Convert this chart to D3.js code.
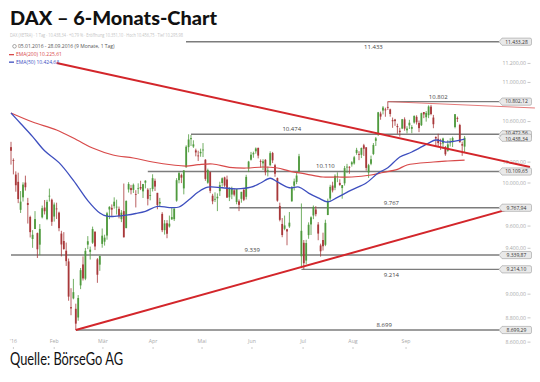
<!DOCTYPE html>
<html><head><meta charset="utf-8">
<script src="https://cdn.jsdelivr.net/npm/d3@7"></script>
<style>body{margin:0;background:#fff}svg{display:block}</style>
</head><body>
<svg id="c" width="540" height="382"></svg>
<script>
// ---- Daily OHLC, 05.01.2016 – 28.09.2016 (trading-day index) ----
const open = [
10346,10220,10080,10011,9749,9865,10004,9812,9683,9483,9573,9536,9432,9680,9770,9664,9879,9843,9687,
9761,9723,9532,9465,9378,9284,8890,8964,8876,8803,9075,9257,9133,9432,9368,9450,9547,9302,9255,9439,9459,
9514,9752,9767,9783,9777,9758,9663,9737,9581,9939,9952,9935,9895,9945,9962,9921,10003,9937,9884,9943,10021,
9907,9807,9711,9563,9626,9596,9661,9663,9834,10027,10075,9949,10149,10346,10424,10352,10314,10264,10286,10320,10223,
10003,10104,9880,9843,9856,9923,10000,10053,10034,9865,9891,9931,9822,9828,9851,9937,9870,10138,10223,10276,10305,10339,
10211,10188,10222,10110,10168,10288,10170,10047,9785,9619,9575,9571,9596,9828,9974,10010,10113,9329,9449,9291,9518,9615,
9697,9752,9614,9425,9474,9431,9701,9854,9976,9955,10066,10001,9952,9997,10149,10154,10178,10187,10289,10278,10271,
10364,10344,10100,10184,10279,10408,10474,10680,10711,10723,10748,10723,10614,10620,10555,10508,10530,10622,10512,10561,10527,10590,10647,
10586,10563,10696,10643,10664,10751,10640,10446,10428,10383,10382,10346,10310,10386,10395,10545,10636,10565,10375,10351];
const high = [
10398,10236,10111,10098,9924,10007,10070,9860,9695,9563,9737,9541,9618,9788,9840,9842,9947,9853,9817,
9815,9732,9557,9545,9451,9309,9051,9131,8919,8992,9226,9328,9403,9509,9415,9595,9555,9313,9335,9578,9522,
9730,9783,9799,9865,9843,9779,9747,9995,9837,10008,9982,9995,9932,9997,10021,9991,10026,9951,9953,10083,10042,
9907,9860,9727,9655,9654,9696,9768,9761,10046,10108,10089,10121,10364,10472.56,10466,10413,10331,10311,10331,10386,10229,
10137,10108,9898,9912,9902,10012,10053,10060,10070,9960,9965,9948,9944,9845,9916,9942,10078,10212,10299,10302,10343,10340,
10226,10228,10229,10157,10305,10299,10183,10052,9815,9673,9696,9575,9729,9970,10042,10097,10280,9808,9474,9476,9634,9689,
9789,9783,9636,9441,9540,9658,9853,9983,10012,10082,10102,10036,9968,10163,10183,10161,10209,10260,10339,10306,10342,
10378,10346,10183,10263,10386,10445,10697,10700,10757,10740,10802.12,10730,10640,10627,10578,10537,10626,10642,10553,10617,10564,10661,10663,
10610,10689,10696,10706,10764,10769,10667,10452,10478,10428,10439,10357,10414,10434,10449,10675,10650,10577,10400,10456];
const low = [
10176,10082,9918,9811,9720,9826,9928,9623,9497,9404,9573,9314,9339,9670,9706,9654,9826,9602,9641,
9665,9553,9328,9387,9244,8944,8822,8956,8699.29,8776,9043,9117,9120,9392,9300,9439,9384,9097,9201,9405,9424,
9477,9663,9693,9760,9706,9670,9636,9498,9581,9910,9893,9906,9771,9897,9933,9859,9949,9790,9837,9920,9925,
9754,9776,9545,9523,9490,9586,9657,9646,9824,9997,9999,9893,10149,10295,10357,10338,10256,10211,10252,10249,10021,
9993,9904,9801,9821,9737,9878,9966,9962,9861,9830,9848,9874,9800,9737,9815,9830,9845,10104,10215,10242,10282,10236,
10146,10124,10073,10063,10168,10191,10059,9824,9643,9499,9562,9427,9583,9825,9930,9989,10095,9226,9214.10,9258,9485,9519,
9663,9689,9472,9326,9380,9419,9700,9832,9911,9932,10008,9973,9852,9976,10094,10088,10156,10176,10271,10219,10239,
10260,10118,10049,10170,10268,10357,10456,10618,10672,10648,10717,10649,10537,10557,10477,10450,10524,10508,10481,10525,10483,10579,10570,
10494,10555,10634,10599,10634,10663,10533,10351,10355,10319,10329,10261,10301,10352,10347,10532,10595,10391,10261,10296];
const close = [
10310,10214,9979,9849,9825,9985,9960,9794,9545,9521,9664,9391,9574,9764,9736,9823,9880,9639,9798,
9757,9581,9434,9393,9286,8979,8879,9017,8752,8967,9207,9135,9377,9463,9388,9573,9416,9167,9331,9513,9495,
9717,9776,9751,9824,9778,9692,9723,9498,9831,9990,9933,9983,9892,9950,9948,9990,10022,9851,9887,10046,9966,
9794,9822,9563,9624,9530,9622,9682,9761,10027,10094,10051,10120,10350,10421,10435,10373,10294,10260,10299,10322,10039,
10123,9926,9828,9851,9870,9980,10045,9975,9862,9952,9952,9890,9943,9795,9917,9842,10058,10205,10272,10287,10333,10263,
10204,10208,10103,10121,10287,10217,10088,9834,9657,9519,9606,9551,9631,9962,10015,10071,10257,9557,9268,9447,9612,9680,
9776,9709,9532,9373,9418,9629,9833,9964,9930,10068,10066,9982,9981,10142,10156,10147,10198,10247,10319,10275,10337,
10330,10144,10170,10228,10367,10432,10693,10650,10742,10713,10739,10676,10603,10604,10544,10494,10623,10529,10530,10588,10545,10657,10593,
10534,10684,10672,10687,10752,10676,10573,10432,10386,10379,10431,10276,10373,10393,10436,10674,10627,10394,10361,10438.34];

// ---- Moving averages ----
const ema50Idx = [0,4,9,14,20,26,32,37,40,44,48,52,56,61,66,70,74,78,82,88,94,100,104,108,111,116,120,124,128,132,136,142,148,153,157,162,167,174,177,181,185,189];
const ema50    = [10686,10580,10450,10310,10195,10025,9835,9720,9690,9690,9700,9715,9735,9780,9770,9775,9840,9915,9960,9955,9945,9960,10000,10045,10010,9955,9962,9905,9860,9822,9865,9935,10000,10095,10145,10250,10298,10386,10416,10396,10405,10425];
const ema200Idx = [0,9,19,27.5,34,42.5,51,59,67.5,73,78,84,91,98,105,111,116,123,130,136,142,150,155,161,165,176,182,189];
const ema200    = [10686,10595,10515,10416,10337,10269,10240,10201,10172,10162,10175,10182,10150,10143,10153,10143,10114,10085,10057,10057,10057,10076,10100,10130,10172,10201,10211,10220];

// ---- Horizontal levels ----
const levelValues = [11433.28,10802.12,10472.56,10109.65,9767.94,9339.87,9214.10,8699.29];
const levelStart  = [0,157,75,57,91,0,121,27];
const levelText   = ["11.433","10.802","10.474","10.110","9.767","9.339","9.214","8.699"];
const levelTextAt = [151,178,117,131,158.5,100.5,158.5,155.5];
const levelTextBelow = [true,false,false,false,false,false,true,false];

// ---- Trend lines [idx, price] ----
const trendFrom = [[19,11205],[27,8699.29],[157,10802.12]];
const trendTo   = [[216.25,10153],[213,9790],[218.3,10737]];
const trendWidth = [2,2,0.9];

// ---- Price tags & axis ----
const tagValues = [11433.28,10802.12,10472.56,10438.34,10109.65,9767.94,9339.87,9214.10,8699.29];
const priceTicks = [8600,8800,9000,9400,9600,10000,10200,10600,11000,11200];
const monthLabels = ["'16","Feb","Mär","Apr","Mai","Jun","Jul","Aug","Sep"];
const monthAt = [1,18,38.3,59.2,79.6,100.4,121.7,142.5,164.6];

const svg = d3.select("#c");
const x = d3.scaleLinear().domain([0,189]).range([11,464.6]);
const y = d3.scaleLog().domain([8699.29,11433.28]).range([330,41.7]);
const de = v => v.toFixed(2).replace(".",",").replace(/\B(?=(\d{3})+(?!\d))/g,".");
const tagLeft = 499;

// price tick labels
const tk = svg.append("g");
priceTicks.forEach(v=>{
  tk.append("text").attr("x",526).attr("y",y(v)+1.8).attr("text-anchor","end")
    .attr("font-family","Open Sans, sans-serif").attr("font-size",5.2).attr("fill","#a8a8a8").text(de(v));
  tk.append("line").attr("x1",527.5).attr("x2",530.5).attr("y1",y(v)).attr("y2",y(v)).attr("stroke","#b0b0b0").attr("stroke-width",0.7);
});

// month labels
monthLabels.forEach((m,i)=>{
  svg.append("text").attr("x",x(monthAt[i])).attr("y",343).attr("text-anchor","middle")
    .attr("font-family","Open Sans, sans-serif").attr("font-size",5.2).attr("fill","#a8a8a8").text(m);
  svg.append("line").attr("x1",x(monthAt[i])).attr("x2",x(monthAt[i])).attr("y1",347).attr("y2",349)
    .attr("stroke","#b8b8b8").attr("stroke-width",0.7);
});

// level lines
levelValues.forEach((v,i)=>{
  svg.append("line").attr("x1",x(levelStart[i])).attr("x2",tagLeft).attr("y1",y(v)).attr("y2",y(v))
    .attr("stroke","#7c7c7c").attr("stroke-width",1.4);
  svg.append("text").attr("x",x(levelTextAt[i])).attr("y",y(v)+(levelTextBelow[i]?7.5:-3))
    .attr("text-anchor","middle").attr("font-family","Open Sans, sans-serif").attr("font-size",6)
    .attr("fill","#444").text(levelText[i]);
});

// candles
const cg = svg.append("g");
close.forEach((c,i)=>{
  const o=open[i], up=c>=o, col=up?"#4f9a3e":"#a8383a", cx=x(i);
  cg.append("line").attr("x1",cx).attr("x2",cx).attr("y1",y(high[i])).attr("y2",y(low[i]))
    .attr("stroke",col).attr("stroke-width",0.8);
  const t=y(Math.max(o,c)), b=y(Math.min(o,c));
  cg.append("rect").attr("x",cx-0.9).attr("width",1.8).attr("y",t).attr("height",Math.max(0.8,b-t)).attr("fill",col);
});

// EMAs
const ln = d3.line().curve(d3.curveCatmullRom.alpha(0.5));
svg.append("path").attr("d",ln(ema200Idx.map((d,i)=>[x(d),y(ema200[i])])))
  .attr("fill","none").attr("stroke","#d84a4a").attr("stroke-width",1.2);
svg.append("path").attr("d",ln(ema50Idx.map((d,i)=>[x(d),y(ema50[i])])))
  .attr("fill","none").attr("stroke","#3e4fbf").attr("stroke-width",1.3);

// trend lines
trendFrom.forEach((f,i)=>{
  svg.append("line").attr("x1",x(f[0])).attr("y1",y(f[1])).attr("x2",x(trendTo[i][0])).attr("y2",y(trendTo[i][1]))
    .attr("stroke",i<2?"#d3262b":"#e06a6a").attr("stroke-width",trendWidth[i]);
});

// price tags
tagValues.forEach((v,k)=>{
  const c=y(v), l=tagLeft, r=531.5;
  const off = v===10472.56 ? -1 : (v===10438.34 ? 1 : 0);
  svg.append("path").attr("d",`M${l},${c} L${l+3},${c-3.6} L${r-1.5},${c-3.6} Q${r},${c-3.6} ${r},${c-2.1} L${r},${c+2.1} Q${r},${c+3.6} ${r-1.5},${c+3.6} L${l+3},${c+3.6} Z`)
    .attr("fill","#e9e9e9").attr("stroke","#9c9c9c").attr("stroke-width",0.6);
  svg.append("text").attr("x",(l+r)/2+1.2).attr("y",c+1.8+off).attr("text-anchor","middle")
    .attr("font-family","Open Sans, sans-serif").attr("font-size",5).attr("fill","#333").text(de(v));
});

// legend block
svg.append("rect").attr("x",0).attr("y",29).attr("width",186).attr("height",15).attr("fill","#fff");
svg.append("text").attr("x",10).attr("y",37).attr("font-family","Open Sans, sans-serif").attr("font-size",5)
  .attr("fill","#c4c4c4").attr("textLength",173).attr("lengthAdjust","spacingAndGlyphs")
  .text("DAX (XETRA) · 1 Tag · 10.438,34 · +0,79 % · Eröffnung 10.351,10 · Hoch 10.456,75 · Tief 10.295,98");
svg.append("circle").attr("cx",14.5).attr("cy",46.3).attr("r",1.8).attr("fill","none").attr("stroke","#555").attr("stroke-width",0.5);
svg.append("text").attr("x",18).attr("y",48).attr("font-family","Open Sans, sans-serif").attr("font-size",5)
  .attr("fill","#555").text("05.01.2016 - 28.09.2016 (9 Monate, 1 Tag)");
svg.append("rect").attr("x",9).attr("y",54).attr("width",5).attr("height",1.3).attr("fill","#d84a4a");
svg.append("text").attr("x",16).attr("y",56).attr("font-family","Open Sans, sans-serif").attr("font-size",5)
  .attr("fill","#d84a4a").text("EMA(200)  10.225,61");
svg.append("rect").attr("x",9).attr("y",61.5).attr("width",5).attr("height",1.3).attr("fill","#3e4fbf");
svg.append("text").attr("x",16).attr("y",63.5).attr("font-family","Open Sans, sans-serif").attr("font-size",5)
  .attr("fill","#3e4fbf").text("EMA(50)  10.424,63");

// title and source
svg.append("text").attr("x",10).attr("y",25).attr("font-family","Lato, Open Sans, sans-serif").attr("font-weight",900)
  .attr("font-size",19.5).attr("fill","#111").attr("textLength",207).attr("lengthAdjust","spacingAndGlyphs")
  .text("DAX – 6-Monats-Chart");
svg.append("text").attr("x",10).attr("y",364.5).attr("font-family","Lato, Open Sans, sans-serif")
  .attr("font-size",16.5).attr("fill","#111").attr("textLength",113).attr("lengthAdjust","spacingAndGlyphs")
  .text("Quelle: BörseGo AG");
</script>
</body></html>
